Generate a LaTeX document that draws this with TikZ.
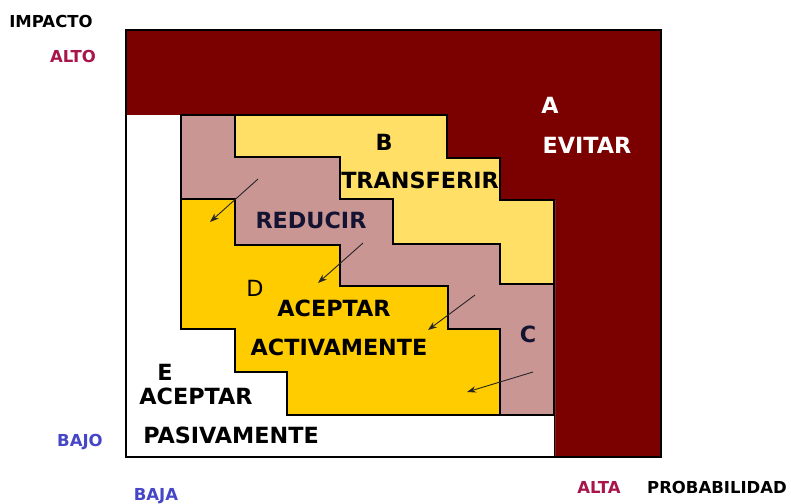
\documentclass[tikz,border=0pt]{standalone}
\usepackage{fontspec}
\setmainfont{DejaVu Sans}
\usetikzlibrary{arrows.meta}
\definecolor{maroonA}{HTML}{7B0000}
\definecolor{pinkC}{HTML}{C99694}
\definecolor{yellowB}{HTML}{FFDF66}
\definecolor{goldD}{HTML}{FFCC00}
\definecolor{axisred}{HTML}{A8154A}
\definecolor{axisblue}{HTML}{4646C8}
\definecolor{navy}{HTML}{141432}
\tikzset{
  region/.style={draw=black, line width=1.2pt, line join=miter},
  biglbl/.style={font=\bfseries\fontsize{22.3}{23}\selectfont, anchor=base, inner sep=0pt, text=black},
  axislbl/.style={font=\bfseries\fontsize{16.5}{17}\selectfont, anchor=base, inner sep=0pt},
  movearrow/.style={draw=black!85, line width=0.9pt, -{Stealth[length=9pt,width=6.5pt]}}
}
\begin{document}
\begin{tikzpicture}[x=1pt,y=-1pt]
\useasboundingbox (0,0) rectangle (791,503);
% frame (A)
\fill[maroonA] (126,30) rectangle (661,457);
% white (E)
\fill[white] (126,115) -- (447,115) -- (447,158) -- (500,158) -- (500,200) -- (555,200) -- (555,457) -- (126,457) -- cycle;
% pink (REDUCIR / C)
\filldraw[region, fill=pinkC] (181,115) -- (235,115) -- (235,157) -- (340,157) -- (340,199) -- (393,199) -- (393,244) -- (500,244) -- (500,284) -- (554,284) -- (554,415) -- (500,415) -- (500,329) -- (448,329) -- (448,286) -- (340,286) -- (340,245) -- (235,245) -- (235,199) -- (181,199) -- cycle;
% yellow (B)
\filldraw[region, fill=yellowB] (235,115) -- (447,115) -- (447,158) -- (500,158) -- (500,200) -- (554,200) -- (554,284) -- (500,284) -- (500,244) -- (393,244) -- (393,199) -- (340,199) -- (340,157) -- (235,157) -- cycle;
% gold (D)
\filldraw[region, fill=goldD] (181,199) -- (235,199) -- (235,245) -- (340,245) -- (340,286) -- (448,286) -- (448,329) -- (500,329) -- (500,415) -- (287,415) -- (287,372) -- (235,372) -- (235,329) -- (181,329) -- cycle;
% edge between white strip and maroon column
\draw[line width=1pt] (287,415) -- (554,415) -- (554,457);
% outer frame border
\draw[line width=1.6pt] (126,30) rectangle (661,457);

% arrows
\coordinate (a1s) at (258,179); \coordinate (a1e) at (210,222);
\coordinate (a2s) at (363,243); \coordinate (a2e) at (318,283);
\coordinate (a3s) at (475,295); \coordinate (a3e) at (428,330);
\coordinate (a4s) at (533,372); \coordinate (a4e) at (467,392);
\draw[movearrow] (a1s) -- (a1e);
\draw[movearrow] (a2s) -- (a2e);
\draw[movearrow] (a3s) -- (a3e);
\draw[movearrow] (a4s) -- (a4e);

% region labels
\node[biglbl, text=white] (lA) at (550,113) {A};
\node[biglbl, text=white] (lEvitar) at (587,153) {EVITAR};
\node[biglbl] (lB) at (384,150) {B};
\node[biglbl] (lTransferir) at (420,188) {TRANSFERIR};
\node[biglbl, text=navy] (lReducir) at (311,228) {REDUCIR};
\node[biglbl, font=\fontsize{22.3}{23}\selectfont] (lD) at (255,296) {D};
\node[biglbl] (lAceptarD) at (334,316) {ACEPTAR};
\node[biglbl] (lActiv) at (339,355) {ACTIVAMENTE};
\node[biglbl, text=navy] (lC) at (528,342) {C};
\node[biglbl] (lE) at (165,380) {E};
\node[biglbl] (lAceptarE) at (196,404) {ACEPTAR};
\node[biglbl] (lPasiv) at (231,443) {PASIVAMENTE};

% axis labels
\node[axislbl, text=black] (impacto) at (51,28) {IMPACTO};
\node[axislbl, text=axisred] (alto) at (73,62) {ALTO};
\node[axislbl, text=axisblue] (bajo) at (80,446) {BAJO};
\node[axislbl, text=axisblue] (baja) at (156,500) {BAJA};
\node[axislbl, text=axisred] (alta) at (599,493) {ALTA};
\node[axislbl, text=black] (prob) at (717,493) {PROBABILIDAD};
\end{tikzpicture}
\end{document}
